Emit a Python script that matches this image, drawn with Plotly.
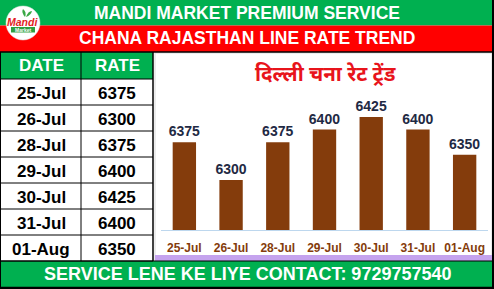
import plotly.graph_objects as go

W, H = 494, 289

dates = ["25-Jul", "26-Jul", "28-Jul", "29-Jul", "30-Jul", "31-Jul", "01-Aug"]
rates = [6375, 6300, 6375, 6400, 6425, 6400, 6350]

top_title = "MANDI MARKET PREMIUM SERVICE"
sub_title = "CHANA RAJASTHAN LINE RATE TREND"
chart_title = "दिल्ली चना रेट ट्रेंड"
footer = "SERVICE LENE KE LIYE CONTACT: 9729757540"
col_heads = ["DATE", "RATE"]

GREEN = "#00B050"
RED = "#FF0000"
BROWN = "#843C0C"
LABEL = "#1F2A44"
FONT = "Arial, Liberation Sans, sans-serif"


def px(x):
    return x / W


def py(y):
    return 1 - y / H


shapes = []
annotations = []


def rect(x0, y0, x1, y1, fill=None, line=None, lw=0, layer="below"):
    shapes.append(dict(type="rect", xref="paper", yref="paper",
                       x0=px(x0), x1=px(x1), y0=py(y1), y1=py(y0),
                       fillcolor=fill if fill else "rgba(0,0,0,0)",
                       line=dict(color=line if line else "rgba(0,0,0,0)", width=lw),
                       layer=layer))


def hline(x0, x1, y, color="black", lw=1, layer="above"):
    shapes.append(dict(type="line", xref="paper", yref="paper",
                       x0=px(x0), x1=px(x1), y0=py(y), y1=py(y),
                       line=dict(color=color, width=lw), layer=layer))


def vline(x, y0, y1, color="black", lw=1, layer="above"):
    shapes.append(dict(type="line", xref="paper", yref="paper",
                       x0=px(x), x1=px(x), y0=py(y0), y1=py(y1),
                       line=dict(color=color, width=lw), layer=layer))


def text(x, y, s, size, color, bold=True, family=FONT, italic=False):
    annotations.append(dict(xref="paper", yref="paper", x=px(x), y=py(y),
                            text=s, showarrow=False, xanchor="center", yanchor="middle",
                            font=dict(size=size, color=color, family=family,
                                      weight="bold" if bold else "normal",
                                      style="italic" if italic else "normal")))


# banners
rect(0, 0, W, 25.5, fill=GREEN)
rect(0, 25.5, W, 52, fill=RED)
hline(0, W, 52, lw=1.5)
text(247, 13, top_title, 17.5, "white")
text(246.5, 38.5, sub_title, 17.5, "white")

# table
rect(0, 52, 153, 79, fill=GREEN)
row_top = 79
row_h = 26
rect(0, row_top, 153, row_top + row_h * len(dates), fill="white")
text(41, 66, col_heads[0], 17, "white")
text(117, 66, col_heads[1], 17, "white")
hline(0, 153, row_top, lw=1)
for i, (d, r) in enumerate(zip(dates, rates)):
    y0 = row_top + i * row_h
    hline(0, 153, y0 + row_h, lw=1)
    text(41, y0 + row_h / 2 + 1, d, 17, "black")
    text(117, y0 + row_h / 2 + 1, str(r), 17, "black")
vline(81, 52, row_top + row_h * len(dates), lw=1)
vline(153, 52, row_top + row_h * len(dates), lw=1.5)

# chart panel
rect(155, 53, 492, 261, fill="white", line="#D9D9D9", lw=1)
rect(155, 255, 492, 261, fill="#C5A3EE")
text(325, 75, chart_title, 20.5, "#E8141B", family="Noto Sans Devanagari, Lohit Devanagari, Mangal, Noto Sans, sans-serif")

# footer
rect(0, 261, W, 287, fill=GREEN)
hline(0, W, 261, lw=1)
text(247, 274, footer, 18, "white")

# outer border
hline(0, W, 288, lw=2.5)
vline(493, 0, H, lw=2)
vline(0.5, 52, H, lw=1)

# logo
shapes.append(dict(type="circle", xref="paper", yref="paper",
                   x0=px(6), x1=px(40), y0=py(40), y1=py(6),
                   fillcolor="white", line=dict(color="#E0E0E0", width=0.5), layer="above"))
shapes.append(dict(type="path", xref="paper", yref="paper",
                   path=f"M {px(25)} {py(17)} Q {px(21)} {py(12)} {px(23)} {py(9)} Q {px(27)} {py(12)} {px(25)} {py(17)} Z",
                   fillcolor="#3AA845", line=dict(width=0), layer="above"))
shapes.append(dict(type="path", xref="paper", yref="paper",
                   path=f"M {px(26)} {py(17)} Q {px(28)} {py(11)} {px(32)} {py(11)} Q {px(31)} {py(15)} {px(26)} {py(17)} Z",
                   fillcolor="#3AA845", line=dict(width=0), layer="above"))
shapes.append(dict(type="rect", xref="paper", yref="paper",
                   x0=px(11), x1=px(35), y0=py(32.5), y1=py(27),
                   fillcolor="#2E9E3F", line=dict(width=0), layer="above"))
annotations.append(dict(xref="paper", yref="paper", x=px(22.5), y=py(21.5), text="Mandi",
                        showarrow=False, xanchor="center", yanchor="middle",
                        font=dict(size=10.5, color="#E31E24", family=FONT, weight="bold", style="italic")))
annotations.append(dict(xref="paper", yref="paper", x=px(23), y=py(30), text="Market",
                        showarrow=False, xanchor="center", yanchor="middle",
                        font=dict(size=5, color="white", family=FONT, weight="bold")))

fig = go.Figure(go.Bar(
    x=dates, y=rates, marker=dict(color=BROWN, line=dict(width=0)),
    text=[str(r) for r in rates], textposition="outside", constraintext="none",
    textfont=dict(size=14, color=LABEL, family=FONT, weight="bold"),
    cliponaxis=False, hoverinfo="skip",
))

fig.update_layout(
    width=W, height=H, margin=dict(l=0, r=0, t=0, b=0),
    paper_bgcolor="white", plot_bgcolor="rgba(0,0,0,0)",
    bargap=0.5, showlegend=False,
    shapes=shapes, annotations=annotations,
    xaxis=dict(domain=[px(161), px(488)], showgrid=False, showline=True,
               linecolor="#BDD7EE", linewidth=1, ticks="", type="category",
               ticklabelstandoff=6,
               tickfont=dict(size=12, color=BROWN, family=FONT, weight="bold")),
    yaxis=dict(domain=[py(230.4), py(95)], range=[6200, 6200 + (230.4 - 95) / 0.504],
               showgrid=False, showticklabels=False, zeroline=False, showline=False),
)

fig.write_html("out.html")
